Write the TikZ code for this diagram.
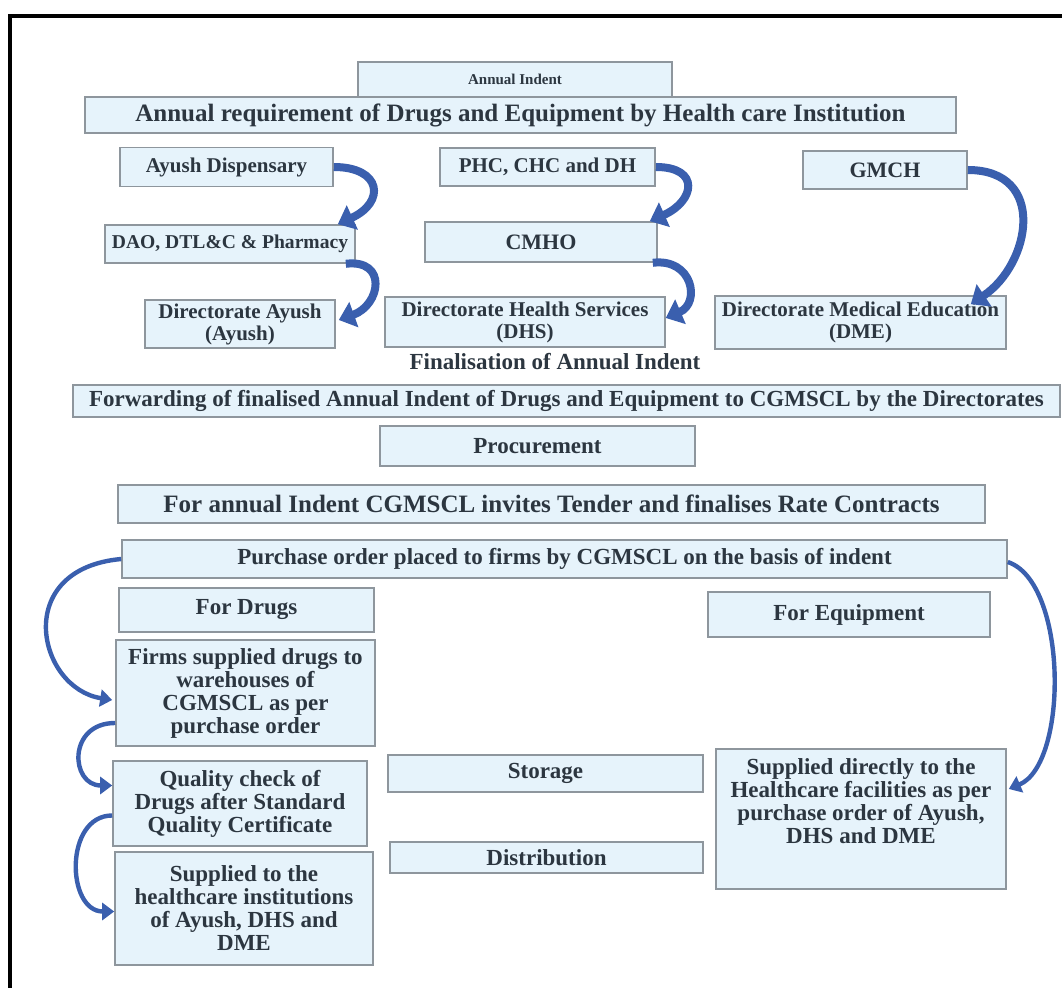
\documentclass[tikz,border=0pt]{standalone}
\usepackage{fontspec}
\setmainfont{Liberation Serif}
\usetikzlibrary{arrows.meta,calc,positioning}
\definecolor{flowBlue}{HTML}{3A5FAE}
\definecolor{flowFill}{HTML}{E6F3FB}
\definecolor{flowLine}{HTML}{8E969D}
\definecolor{flowText}{HTML}{2C3640}
\tikzset{
  box/.style={draw=flowLine, fill=flowFill, line width=0.8pt, inner sep=1pt,
    align=center, text=flowText, font=\bfseries\fontsize{11.5}{11.5}\selectfont},
  wide box/.style={box, font=\bfseries\fontsize{12.5}{13}\selectfont},
  unit box/.style={box, font=\bfseries\fontsize{10.5}{11}\selectfont},
  small box/.style={box, font=\bfseries\fontsize{7.5}{8}\selectfont},
  caption/.style={text=flowText, font=\bfseries\fontsize{11.5}{12}\selectfont},
  curve arrow/.style={-{Triangle[length=8pt,width=13pt]}, line width=4pt,
    draw=flowBlue},
  thin curve arrow/.style={-{Triangle[length=6pt,width=8.5pt]}, line width=2.2pt,
    draw=flowBlue}
}
\begin{document}
\begin{tikzpicture}[x=0.5pt,y=0.5pt]
  \useasboundingbox (0,0) rectangle (1062,-988);
  \draw[line width=1.6pt] (10,-1100) -- (10,-16) -- (1200,-16);

  % indent
  \node[small box, minimum width=157pt, minimum height=17.5pt] (indent) at (515,-79.5) {Annual Indent};
  \node[wide box, minimum width=435.5pt, minimum height=18pt] (annreq) at (520.5,-115)
    {Annual requirement of Drugs and Equipment by Health care Institution};
  \node[unit box, minimum width=106.5pt, minimum height=19.5pt] (aydisp) at (226.5,-167) {Ayush Dispensary};
  \node[unit box, minimum width=107.5pt, minimum height=19pt] (phc) at (547.5,-167) {PHC, CHC and DH};
  \node[unit box, minimum width=82pt, minimum height=19pt, font=\bfseries\fontsize{11}{11}\selectfont] (gmch) at (885,-170) {GMCH};
  \node[unit box, minimum width=125pt, minimum height=19pt, font=\bfseries\fontsize{9.8}{10}\selectfont] (dao) at (230,-244) {DAO, DTL\&C \& Pharmacy};
  \node[unit box, minimum width=116pt, minimum height=20pt, font=\bfseries\fontsize{11}{11}\selectfont] (cmho) at (541,-242) {CMHO};
  \node[unit box, minimum width=95pt, minimum height=24pt] (diray) at (240,-324) {Directorate Ayush\\(Ayush)};
  \node[unit box, minimum width=140pt, minimum height=25pt] (dhs) at (525,-322) {Directorate Health Services\\(DHS)};
  \node[unit box, minimum width=145.5pt, minimum height=26.5pt] (dme) at (860.5,-322.5) {Directorate Medical Education\\(DME)};
  \node[caption] (final) at (555,-362) {Finalisation of Annual Indent};
  \node[box, minimum width=493.5pt, minimum height=16pt] (fwd) at (566.5,-401)
    {Forwarding of finalised Annual Indent of Drugs and Equipment to CGMSCL by the Directorates};

  % procurement
  \node[box, minimum width=157.5pt, minimum height=20pt] (proc) at (537.5,-446) {Procurement};
  \node[wide box, minimum width=433.5pt, minimum height=19pt] (tender) at (551.5,-504)
    {For annual Indent CGMSCL invites Tender and finalises Rate Contracts};
  \node[box, minimum width=442.5pt, minimum height=19pt] (po) at (564.5,-559)
    {Purchase order placed to firms by CGMSCL on the basis of indent};
  \node[box, minimum width=127.5pt, minimum height=22pt] (fordrugs) at (246.5,-610) {For Drugs};
  \node[box, minimum width=141pt, minimum height=22.5pt] (forequip) at (849,-614.5) {For Equipment};
  \node[box, minimum width=129.5pt, minimum height=53pt] (firms) at (245.5,-693)
    {Firms supplied drugs to\\warehouses of\\CGMSCL as per\\purchase order};
  \node[box, minimum width=127pt, minimum height=42.5pt] (quality) at (240,-803.5)
    {Quality check of\\Drugs after Standard\\Quality Certificate};
  \node[box, minimum width=129pt, minimum height=56.5pt] (supdrugs) at (244,-908.5)
    {Supplied to the\\healthcare institutions\\of Ayush, DHS and\\DME};
  \node[box, minimum width=157.5pt, minimum height=18.5pt] (storage) at (545.5,-773.5) {Storage};
  \node[box, minimum width=156.5pt, minimum height=15.5pt] (distrib) at (546.5,-857.5) {Distribution};
  \node[box, minimum width=145pt, minimum height=70pt, text depth=18pt] (supequip) at (861,-819)
    {Supplied directly to the\\Healthcare facilities as per\\purchase order of Ayush,\\DHS and DME};

  % connectors
  \draw[curve arrow] (aydisp.east) .. controls +(48,0) and +(48,22) .. ($(dao.north east)+(-18,0)$);
  \draw[curve arrow] ($(dao.south east)+(-10,0)$) .. controls +(42,5) and +(42,15) .. ($(diray.east)+(3,4)$);
  \draw[curve arrow] (phc.east) .. controls +(45,0) and +(45,20) .. ($(cmho.north east)+(-8,0)$);
  \draw[curve arrow] ($(cmho.south east)+(-5,0)$) .. controls +(40,5) and +(35,15) .. ($(dhs.east)+(0,4)$);
  \draw[curve arrow] (gmch.east) .. controls +(80,0) and +(60,40) .. ($(dme.north east)+(-36,-9)$);
  \draw[thin curve arrow] (po.west) .. controls +(-110,-10) and +(-75,12) .. ($(firms.west)+(-3,-7)$);
  \draw[thin curve arrow] ($(firms.west)+(0,-30)$) .. controls +(-48,0) and +(-42,0) .. ($(quality.west)+(0,18)$);
  \draw[thin curve arrow] ($(quality.west)+(0,-12)$) .. controls +(-48,0) and +(-48,0) .. ($(supdrugs.west)+(0,-3)$);
  \draw[thin curve arrow] ($(po.east)+(0,-3)$) .. controls +(60,-20) and +(60,25) .. ($(supequip.east)+(2,30)$);
\end{tikzpicture}
\end{document}
